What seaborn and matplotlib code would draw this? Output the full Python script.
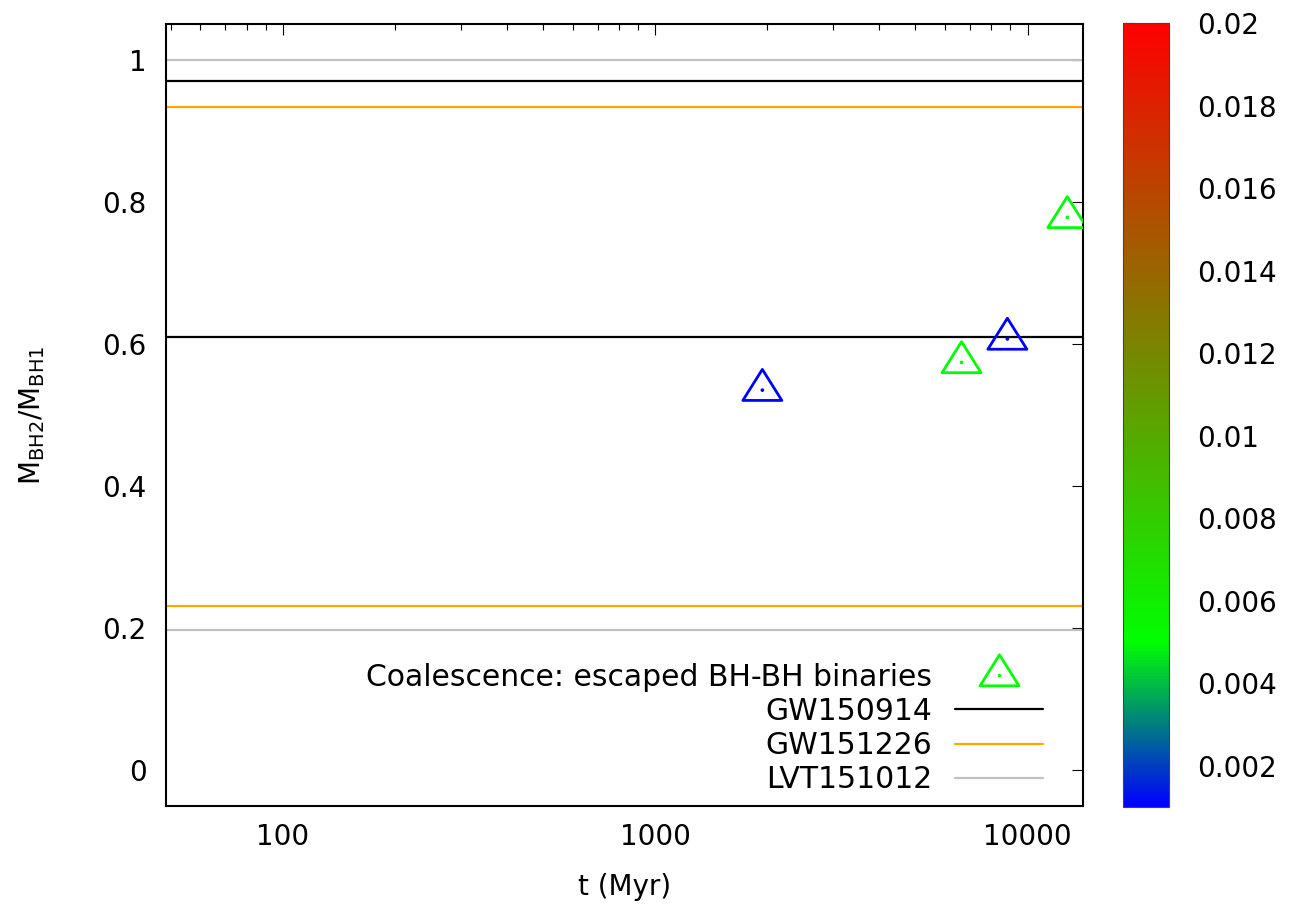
import numpy as np
import pandas as pd
import matplotlib
matplotlib.use("Agg")
import matplotlib.pyplot as plt
from matplotlib.colors import LinearSegmentedColormap, Normalize
from matplotlib.lines import Line2D
from matplotlib.markers import MarkerStyle
from matplotlib.path import Path
from matplotlib.ticker import FuncFormatter, LogLocator, MultipleLocator
import seaborn as sns

# ── Data ──────────────────────────────────────────────────────────────────────
t_myr   = [1940, 6650, 8830, 12790]
q_ratio = [0.535, 0.574, 0.607, 0.778]
metal_z = [0.001, 0.005, 0.001, 0.005]

events     = ["GW150914", "GW151226", "LVT151012"]
event_lo   = [0.61, 0.232, 0.197]
event_hi   = [0.97, 0.933, 1.0]
event_cols = ["black", "#ffa500", "#c0c0c0"]

cb_ticks = [0.002, 0.004, 0.006, 0.008, 0.01, 0.012, 0.014, 0.016, 0.018, 0.02]
Z_MIN, Z_MAX = 0.001, 0.02

df = pd.DataFrame({"t": t_myr, "q": q_ratio, "Z": metal_z})

# ── Style ─────────────────────────────────────────────────────────────────────
sns.set_style("white")
plt.rcParams["font.family"] = ["DejaVu Sans"]
plt.rcParams["mathtext.fontset"] = "dejavusans"
for key in ("text.color", "axes.labelcolor", "xtick.color", "ytick.color"):
    plt.rcParams[key] = "black"
FS = 20

# gnuplot-like palette: blue -> green -> red
cmap = LinearSegmentedColormap.from_list(
    "gp", [(0.0, (0, 0, 1)),
           ((0.005 - Z_MIN) / (Z_MAX - Z_MIN), (0, 1, 0)),
           (1.0, (1, 0, 0))])
norm = Normalize(Z_MIN, Z_MAX)

# open triangle centred on its centroid
tri = MarkerStyle(Path([(0, 20.7), (-19.5, -10.3), (19.5, -10.3), (0, 20.7)],
                       [Path.MOVETO, Path.LINETO, Path.LINETO, Path.CLOSEPOLY]))

fig = plt.figure(figsize=(12.96, 9.09), dpi=100)
ax = fig.add_axes([0.128, 0.1133, 0.7077, 0.8603])

# ── Event ranges ──────────────────────────────────────────────────────────────
for lo, hi, c in zip(event_lo, event_hi, event_cols):
    ax.axhline(lo, color=c, lw=1.6, zorder=1)
    ax.axhline(hi, color=c, lw=1.6, zorder=1)

# ── Points ────────────────────────────────────────────────────────────────────
sns.scatterplot(data=df, x="t", y="q", hue="Z", palette=cmap, hue_norm=norm,
                marker=tri, s=890, linewidth=2.0, legend=False, ax=ax, zorder=3)
pts = ax.collections[-1]
pts.set_edgecolors(pts.get_facecolors())
pts.set_facecolors("none")
sns.scatterplot(data=df, x="t", y="q", hue="Z", palette=cmap, hue_norm=norm,
                marker="o", s=7, linewidth=0, legend=False, ax=ax, zorder=3)

# ── Axes ──────────────────────────────────────────────────────────────────────
ax.set_xscale("log")
ax.set_xlim(48.5, 14100)
ax.set_ylim(-0.05, 1.05)
ax.xaxis.set_major_locator(LogLocator(base=10))
ax.xaxis.set_minor_locator(LogLocator(base=10, subs=np.arange(2, 10)))
ax.xaxis.set_major_formatter(FuncFormatter(lambda v, p: f"{v:g}"))
ax.xaxis.set_minor_formatter(FuncFormatter(lambda v, p: ""))
ax.yaxis.set_major_locator(MultipleLocator(0.2))
ax.yaxis.set_major_formatter(FuncFormatter(lambda v, p: f"{v:g}" if abs(v) > 1e-9 else "0"))
ax.tick_params(which="both", direction="in", top=True, right=True, labelsize=FS, color="black")
ax.tick_params(which="major", length=8, width=0.8)
ax.tick_params(which="minor", length=4, width=0.8)
ax.tick_params(axis="x", pad=12)
ax.tick_params(axis="y", pad=14)
for s in ax.spines.values():
    s.set_linewidth(1.5)
    s.set_color("black")
ax.set_xlabel("t (Myr)", fontsize=FS, labelpad=16)
ax.set_ylabel(r"$\mathregular{M_{BH2}/M_{BH1}}$", fontsize=FS, labelpad=40)

# ── Legend (text right-aligned, sample on the right) ──────────────────────────
LFS = 21.5
h_tri = Line2D([], [], ls="none", marker=tri, ms=29.8, mew=2.0, mec=(0, 1, 0), mfc="none")
h_dot = Line2D([], [], ls="none", marker="o", ms=2.6, mew=0, mfc=(0, 1, 0))
handles = [(h_tri, h_dot)] + [Line2D([], [], color=c, lw=1.6) for c in event_cols]
labels = ["Coalescence: escaped BH-BH binaries"] + events
ax.legend(handles, labels, loc="lower right", markerfirst=False, frameon=False,
          fontsize=LFS, handlelength=2.95, handletextpad=0.75, labelspacing=0.17,
          borderaxespad=0.0, bbox_to_anchor=(0.969, 0.0))

# ── Colorbar ──────────────────────────────────────────────────────────────────
cax = fig.add_axes([0.8663, 0.1119, 0.0357, 0.8625])
sm = plt.cm.ScalarMappable(norm=norm, cmap=cmap)
cb = fig.colorbar(sm, cax=cax, ticks=cb_ticks)
cb.ax.yaxis.set_major_formatter(FuncFormatter(lambda v, p: f"{v:g}"))
cb.ax.tick_params(direction="in", left=True, right=True, length=8, width=0.8,
                  labelsize=FS, pad=20)
cb.outline.set_linewidth(0.8)
cb.outline.set_edgecolor("#444444")

fig.savefig("out.png", dpi=100)
